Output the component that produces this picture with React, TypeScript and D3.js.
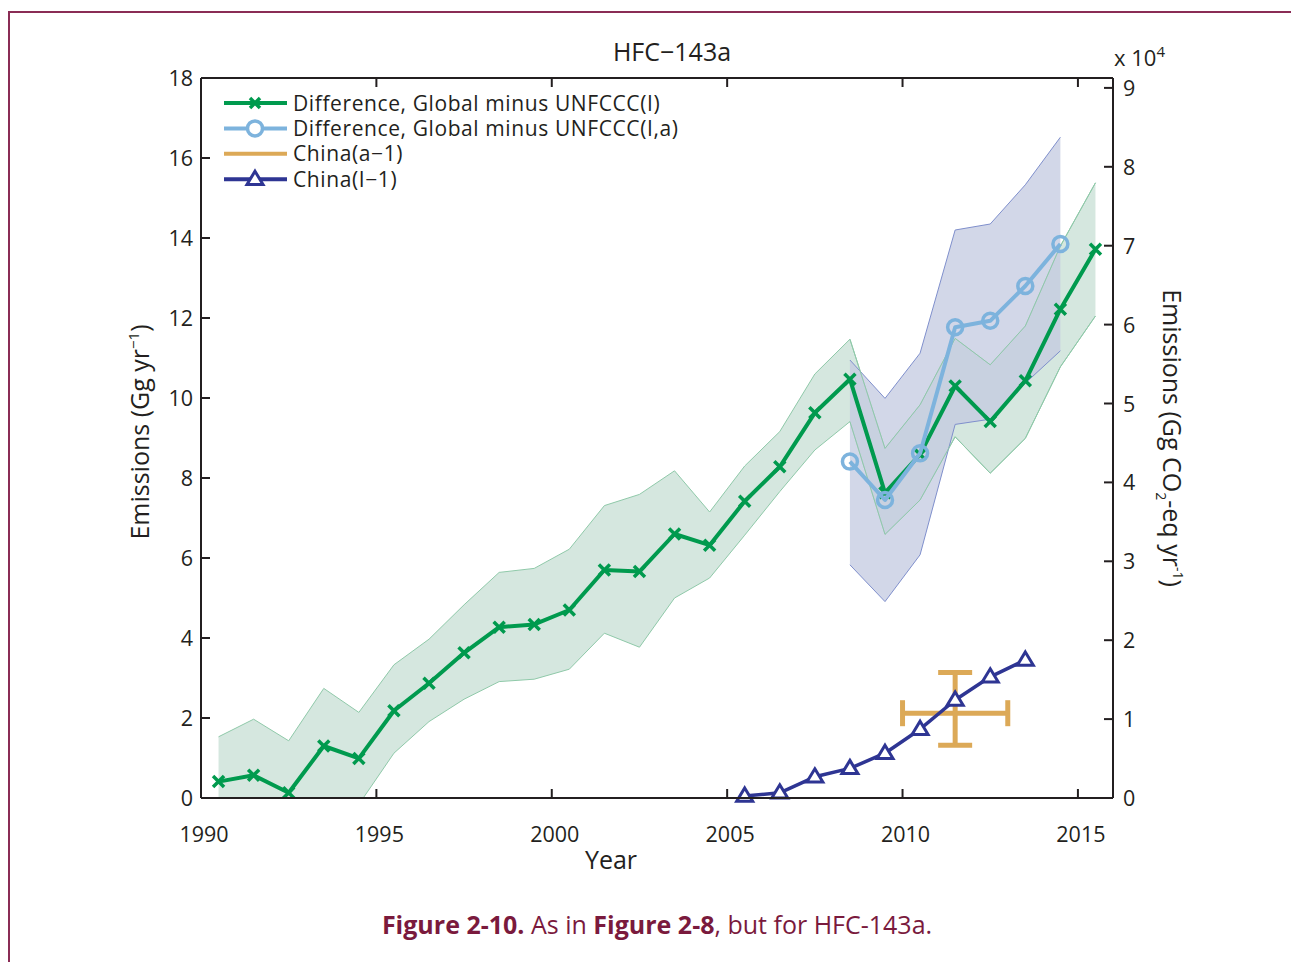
import React from "react";
import * as d3 from "d3";

// Years (mid-year points)
const yearsAll = d3.range(1990, 2016).map((y) => y + 0.5);
const yearsRecent = d3.range(2008, 2015).map((y) => y + 0.5);
const yearsChina = d3.range(2005, 2014).map((y) => y + 0.5);

// Difference, Global minus UNFCCC(I) (Gg/yr)
const diffI = [0.41, 0.57, 0.13, 1.3, 0.99, 2.18, 2.87, 3.63, 4.27, 4.34, 4.7, 5.7, 5.66, 6.6, 6.32, 7.42, 8.28, 9.63, 10.47, 7.63, 8.59, 10.3, 9.41, 10.43, 12.22, 13.72];
const diffIUpper = [1.53, 1.97, 1.43, 2.74, 2.14, 3.33, 3.97, 4.83, 5.64, 5.74, 6.22, 7.31, 7.59, 8.18, 7.15, 8.3, 9.16, 10.6, 11.47, 8.74, 9.83, 11.49, 10.83, 11.8, 13.8, 15.38];
const diffILower = [-0.71, -0.82, -1.17, -0.14, -0.16, 1.12, 1.91, 2.47, 2.91, 2.97, 3.22, 4.12, 3.77, 5.0, 5.5, 6.57, 7.66, 8.7, 9.41, 6.59, 7.45, 9.03, 8.12, 8.99, 10.78, 12.05];

// Difference, Global minus UNFCCC(I,a)
const diffIa = [8.41, 7.45, 8.62, 11.77, 11.93, 12.8, 13.85];
const diffIaUpper = [10.95, 9.99, 11.12, 14.2, 14.35, 15.33, 16.52];
const diffIaLower = [5.83, 4.91, 6.08, 9.34, 9.47, 10.37, 11.18];

// China(I-1)
const chinaI = [0.05, 0.13, 0.53, 0.74, 1.12, 1.72, 2.45, 3.03, 3.45];

// China(a-1): one estimate with x and y ranges
const chinaA = { year: 2011.5, value: 2.12, yearLo: 2010.0, yearHi: 2013.0, lo: 1.32, hi: 3.14 };

const xTicks = [1990, 1995, 2000, 2005, 2010, 2015];
const yTicks = [0, 2, 4, 6, 8, 10, 12, 14, 16, 18];
const y2Ticks = [0, 1, 2, 3, 4, 5, 6, 7, 8, 9];

const legendItems = [
  { label: "Difference, Global minus UNFCCC(I)", color: "#009a4e", marker: "x" },
  { label: "Difference, Global minus UNFCCC(I,a)", color: "#7db3dd", marker: "o" },
  { label: "China(a\u22121)", color: "#dca957", marker: "" },
  { label: "China(I\u22121)", color: "#2e3593", marker: "tri" },
];

const W = 1291;
const H = 962;
const FONT = "'Open Sans', 'Noto Sans', sans-serif";

const GREEN = "#009a4e";
const LBLUE = "#7db3dd";
const DBLUE = "#2e3593";
const ORANGE = "#dca957";
const MAROON = "#7a1a3d";

const left = 201, right = 1113, top = 78, bottom = 798;

const x = d3.scaleLinear().domain([1990, 2016]).range([left, right]);
const y = d3.scaleLinear().domain([0, 18]).range([bottom, top]);
// right axis: x 10^4 Gg CO2-eq
const y2 = d3.scaleLinear().domain([0, 18 * 40 / 78.9]).range([bottom, top]);

function XMark({ cx, cy, s = 5.5, color }: { cx: number; cy: number; s?: number; color: string }) {
  return (
    <path
      d={`M${cx - s},${cy - s}L${cx + s},${cy + s}M${cx - s},${cy + s}L${cx + s},${cy - s}`}
      stroke={color}
      strokeWidth={3.5}
      fill="none"
    />
  );
}

function Tri({ cx, cy, color }: { cx: number; cy: number; color: string }) {
  const s = 8;
  return (
    <path
      d={`M${cx},${cy - s}L${cx + s},${cy + s * 0.65}L${cx - s},${cy + s * 0.65}Z`}
      stroke={color}
      strokeWidth={3}
      fill="white"
    />
  );
}

export default function App() {
  const line = d3
    .line<[number, number]>()
    .x((d) => x(d[0]))
    .y((d) => y(d[1]));
  const area = d3
    .area<[number, number, number]>()
    .x((d) => x(d[0]))
    .y0((d) => y(d[1]))
    .y1((d) => y(d[2]));

  const greenBand = yearsAll.map((yr, i) => [yr, diffILower[i], diffIUpper[i]] as [number, number, number]);
  const blueBand = yearsRecent.map((yr, i) => [yr, diffIaLower[i], diffIaUpper[i]] as [number, number, number]);
  const greenPts = yearsAll.map((yr, i) => [yr, diffI[i]] as [number, number]);
  const lbluePts = yearsRecent.map((yr, i) => [yr, diffIa[i]] as [number, number]);
  const chinaPts = yearsChina.map((yr, i) => [yr, chinaI[i]] as [number, number]);

  const tickLen = 9;

  return (
    <svg width={W} height={H} style={{ position: "absolute", left: 0, top: 0, background: "white" }} fontFamily={FONT}>
      {/* page frame */}
      <path d={`M9,${H}L9,12L${W},12`} fill="none" stroke="#8a2c55" strokeWidth={2} />

      <defs>
        <clipPath id="plotclip">
          <rect x={left} y={top} width={right - left} height={bottom - top} />
        </clipPath>
      </defs>

      <g clipPath="url(#plotclip)">
        {/* green uncertainty band */}
        <path d={area(greenBand) || ""} fill="#d5e7df" stroke="none" />
        <path d={line(greenBand.map((d) => [d[0], d[2]])) || ""} fill="none" stroke="#8fc9a9" strokeWidth={1} />
        <path d={line(greenBand.map((d) => [d[0], d[1]])) || ""} fill="none" stroke="#8fc9a9" strokeWidth={1} />
        {/* blue uncertainty band */}
        <path d={area(blueBand) || ""} fill="#c3c9e0" fillOpacity={0.75} stroke="none" />
        <path d={line(blueBand.map((d) => [d[0], d[2]])) || ""} fill="none" stroke="#7f8fcc" strokeWidth={1} />
        <path d={line(blueBand.map((d) => [d[0], d[1]])) || ""} fill="none" stroke="#7f8fcc" strokeWidth={1} />
        <path
          d={line(greenBand.slice(18).map((d) => [d[0], d[2]])) || ""}
          fill="none"
          stroke="#8fc9a9"
          strokeWidth={1}
        />
        <path
          d={line(greenBand.slice(18).map((d) => [d[0], d[1]])) || ""}
          fill="none"
          stroke="#8fc9a9"
          strokeWidth={1}
        />

        {/* green line */}
        <path d={line(greenPts) || ""} fill="none" stroke={GREEN} strokeWidth={4} strokeLinejoin="round" />
        {greenPts.map((d, i) => (
          <XMark key={i} cx={x(d[0])} cy={y(d[1])} color={GREEN} />
        ))}

        {/* light blue line */}
        <path d={line(lbluePts) || ""} fill="none" stroke={LBLUE} strokeWidth={4} strokeLinejoin="round" />
        {lbluePts.map((d, i) => (
          <circle key={i} cx={x(d[0])} cy={y(d[1])} r={7.5} fill="white" fillOpacity={0} stroke={LBLUE} strokeWidth={3.5} />
        ))}

        {/* China(a-1) error cross */}
        <g stroke={ORANGE} strokeWidth={5} fill="none">
          <line x1={x(chinaA.yearLo)} x2={x(chinaA.yearHi)} y1={y(chinaA.value)} y2={y(chinaA.value)} />
          <line x1={x(chinaA.yearLo)} x2={x(chinaA.yearLo)} y1={y(chinaA.value) - 13} y2={y(chinaA.value) + 13} />
          <line x1={x(chinaA.yearHi)} x2={x(chinaA.yearHi)} y1={y(chinaA.value) - 13} y2={y(chinaA.value) + 13} />
          <line x1={x(chinaA.year)} x2={x(chinaA.year)} y1={y(chinaA.lo)} y2={y(chinaA.hi)} />
          <line x1={x(chinaA.year) - 17} x2={x(chinaA.year) + 17} y1={y(chinaA.lo)} y2={y(chinaA.lo)} />
          <line x1={x(chinaA.year) - 17} x2={x(chinaA.year) + 17} y1={y(chinaA.hi)} y2={y(chinaA.hi)} />
        </g>

        {/* China(I-1) */}
        <path d={line(chinaPts) || ""} fill="none" stroke={DBLUE} strokeWidth={3.5} strokeLinejoin="round" />
      </g>
      {chinaPts.map((d, i) => (
        <Tri key={i} cx={x(d[0])} cy={y(d[1])} color={DBLUE} />
      ))}

      {/* axes box */}
      <g stroke="#231f20" strokeWidth={2} fill="none">
        <line x1={left} x2={right} y1={bottom} y2={bottom} />
        <line x1={left} x2={right} y1={top} y2={top} />
        <line x1={left} x2={left} y1={top} y2={bottom} />
        <line x1={right} x2={right} y1={top} y2={bottom} />
        {xTicks.map((t) => (
          <g key={t}>
            <line x1={x(t)} x2={x(t)} y1={bottom} y2={bottom - tickLen} />
            <line x1={x(t)} x2={x(t)} y1={top} y2={top + tickLen} />
          </g>
        ))}
        {yTicks.map((t) => (
          <line key={t} x1={left} x2={left + tickLen} y1={y(t)} y2={y(t)} />
        ))}
        {y2Ticks.map((t) => (
          <line key={t} x1={right} x2={right - tickLen} y1={y2(t)} y2={y2(t)} />
        ))}
      </g>

      {/* tick labels */}
      <g fontSize={21.5} fill="#231f20">
        {xTicks.map((t) => (
          <text key={t} x={x(t) + 3} y={842} textAnchor="middle">
            {t}
          </text>
        ))}
        {yTicks.map((t) => (
          <text key={t} x={193} y={y(t) + 8} textAnchor="end">
            {t}
          </text>
        ))}
        {y2Ticks.map((t) => (
          <text key={t} x={1123} y={y2(t) + 8} textAnchor="start">
            {t}
          </text>
        ))}
        <text x={1114} y={66} fontSize={22}>
          x 10
          <tspan dy={-9} fontSize={15}>
            4
          </tspan>
        </text>
      </g>

      {/* titles */}
      <text x={672} y={61} fontSize={25} textAnchor="middle" fill="#231f20">
        HFC{"\u2212"}143a
      </text>
      <text x={611} y={869} fontSize={25} textAnchor="middle" fill="#231f20">
        Year
      </text>
      <text transform={`translate(149,432) rotate(-90)`} fontSize={25} textAnchor="middle" fill="#231f20">
        Emissions (Gg yr
        <tspan dy={-10} fontSize={15}>
          {"\u22121"}
        </tspan>
        <tspan dy={10}>)</tspan>
      </text>
      <text transform={`translate(1163,438) rotate(90)`} fontSize={25} textAnchor="middle" fill="#231f20">
        Emissions (Gg CO
        <tspan dy={7} fontSize={14}>
          2
        </tspan>
        <tspan dy={-7}>-eq yr</tspan>
        <tspan dy={-10} fontSize={14}>
          -1
        </tspan>
        <tspan dy={10}>)</tspan>
      </text>

      {/* legend */}
      <g>
        {legendItems.map((it, i) => {
          const ly = 103 + i * 25.4;
          return (
            <g key={it.label}>
              <line x1={224} x2={287} y1={ly} y2={ly} stroke={it.color} strokeWidth={4} />
              {it.marker === "x" && <XMark cx={255} cy={ly} s={5} color={it.color} />}
              {it.marker === "o" && <circle cx={255} cy={ly} r={7.5} fill="white" stroke={it.color} strokeWidth={3.5} />}
              {it.marker === "tri" && <Tri cx={255} cy={ly} color={it.color} />}
              <text x={293} y={ly + 7.5} fontSize={21} letterSpacing={0.6} fill="#231f20">
                {it.label}
              </text>
            </g>
          );
        })}
      </g>

      {/* caption */}
      <text x={657} y={934} fontSize={25} textAnchor="middle" fill={MAROON}>
        <tspan fontWeight="bold">Figure 2-10.</tspan> As in <tspan fontWeight="bold">Figure 2-8</tspan>, but for HFC-143a.
      </text>
    </svg>
  );
}
